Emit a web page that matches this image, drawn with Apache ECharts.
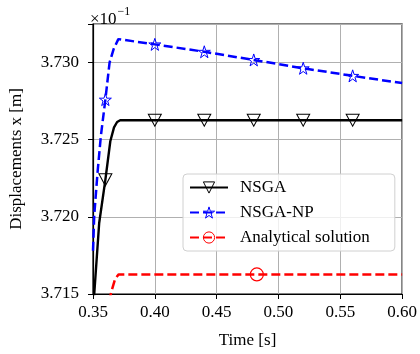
<!DOCTYPE html>
<html><head><meta charset="utf-8">
<script src="https://cdn.jsdelivr.net/npm/echarts@6/dist/echarts.min.js"></script>
<style>html,body{margin:0;padding:0;background:#fff}#c{width:420px;height:354px}</style>
</head><body><div id="c"></div>
<script>
const xTicks = [0.35, 0.40, 0.45, 0.50, 0.55, 0.60];
const yTicks = [3.715, 3.720, 3.725, 3.730];
const nsgaT = [0.350, 0.351, 0.355, 0.360, 0.364, 0.367, 0.3695, 0.372, 0.40, 0.44, 0.48, 0.52, 0.56, 0.60];
const nsgaY = [3.7142, 3.7150, 3.7196, 3.7224, 3.7249, 3.7258, 3.72615, 3.72626, 3.72626, 3.72626, 3.72626, 3.72626, 3.72626, 3.72626];
const nsgaMarks = [0.360, 0.40, 0.44, 0.48, 0.52, 0.56];
const npT = [0.350, 0.351, 0.3537, 0.3563, 0.360, 0.3634, 0.3668, 0.3705, 0.40, 0.44, 0.48, 0.52, 0.56, 0.60];
const npY = [3.7178, 3.7201, 3.7229, 3.7252, 3.7276, 3.7300, 3.7309, 3.73152, 3.73118, 3.7307, 3.73017, 3.72963, 3.72914, 3.72867];
const npMarks = [0.360, 0.40, 0.44, 0.48, 0.52, 0.56];
const anT = [0.363, 0.365, 0.368, 0.3708, 0.4825, 0.60];
const anY = [3.7145, 3.7152, 3.7160, 3.71627, 3.71627, 3.71627];
const anMarks = [0.4825];
const names = ['NSGA', 'NSGA-NP', 'Analytical solution'];

const FONT = 'Liberation Serif';
const triDown = 'path://M0,0 L10,0 L5,9 Z';
const star = 'path://M50,0 L61.8,36.2 L100,36.2 L69.1,58.6 L80.9,95 L50,72.6 L19.1,95 L30.9,58.6 L0,36.2 L38.2,36.2 Z';

function build(ts, ys, marks) {
  return ts.map((t, i) => {
    const d = { value: [t, ys[i]] };
    if (marks.indexOf(t) < 0) d.symbol = 'none';
    return d;
  });
}

const chart = echarts.init(document.getElementById('c'), null, { renderer: 'canvas' });
chart.setOption({
  animation: false,
  backgroundColor: '#fff',
  textStyle: { fontFamily: FONT },
  title: {
    text: '{a|×10}{b|−1}',
    left: 85, top: 1,
    textStyle: { fontWeight: 'normal', rich: {
      a: { fontFamily: FONT, fontSize: 17, fontWeight: 'normal', color: '#000', verticalAlign: 'bottom', lineHeight: 22 },
      b: { fontFamily: FONT, fontSize: 12, fontWeight: 'normal', color: '#000', verticalAlign: 'top', padding: [0, 0, 8, 1] }
    } }
  },
  grid: { left: 87, right: 16, top: 24, bottom: 58, show: true, borderColor: '#000', borderWidth: 1.2 },
  legend: {
    data: names,
    orient: 'vertical',
    left: 183, top: 174,
    padding: [5, 25, 5, 6],
    itemGap: 8,
    itemWidth: 38, itemHeight: 14,
    itemStyle: { color: 'rgba(255,255,255,0)', borderColor: 'inherit', borderWidth: 1 },
    backgroundColor: 'rgba(255,255,255,0.8)',
    borderColor: '#d0d0d0', borderWidth: 1, borderRadius: 4,
    textStyle: { fontFamily: FONT, fontSize: 17, color: '#000', padding: [0, 0, 0, 7] }
  },
  xAxis: {
    type: 'value', min: 0.35, max: 0.60, interval: 0.05,
    name: 'Time [s]', nameLocation: 'middle', nameGap: 38,
    nameTextStyle: { fontFamily: FONT, fontSize: 17, color: '#000' },
    axisLine: { show: true, lineStyle: { color: '#000', width: 1.2 } },
    axisTick: { show: true, inside: false, length: 5, lineStyle: { color: '#000' } },
    axisLabel: { fontFamily: FONT, fontSize: 17, color: '#000', margin: 10,
      formatter: v => v.toFixed(2) },
    splitLine: { show: true, lineStyle: { color: '#b0b0b0', width: 1 } }
  },
  yAxis: {
    type: 'value', min: 3.715, max: 3.7325, interval: 0.005,
    name: 'Displacements x [m]', nameLocation: 'middle', nameGap: 68, nameRotate: 90,
    nameTextStyle: { fontFamily: FONT, fontSize: 17, color: '#000' },
    axisLine: { show: true, lineStyle: { color: '#000', width: 1.2 } },
    axisTick: { show: true, inside: false, length: 5, lineStyle: { color: '#000' } },
    axisLabel: { fontFamily: FONT, fontSize: 17, color: '#000', margin: 14,
      formatter: v => yTicks.some(t => Math.abs(t - v) < 1e-6) ? v.toFixed(3) : '' },
    splitLine: { show: true, lineStyle: { color: '#b0b0b0', width: 1 } }
  },
  series: [
    {
      name: names[0], type: 'line', data: build(nsgaT, nsgaY, nsgaMarks),
      symbol: triDown, symbolSize: [13, 12], showSymbol: true, z: 3,
      lineStyle: { color: '#000', width: 2.4 },
      itemStyle: { color: 'rgba(255,255,255,0)', borderColor: '#000', borderWidth: 1 }
    },
    {
      name: names[1], type: 'line', data: build(npT, npY, npMarks),
      symbol: star, symbolSize: 12, showSymbol: true, z: 4,
      lineStyle: { color: '#0000ff', width: 2.5, type: [9, 4] },
      itemStyle: { color: 'rgba(255,255,255,0)', borderColor: '#0000ff', borderWidth: 1 }
    },
    {
      name: names[2], type: 'line', data: build(anT, anY, anMarks),
      symbol: 'circle', symbolSize: 13, showSymbol: true, z: 2,
      lineStyle: { color: '#ff0000', width: 2.5, type: [9, 4] },
      itemStyle: { color: 'rgba(255,255,255,0)', borderColor: '#ff0000', borderWidth: 1.2 }
    }
  ]
});
</script></body></html>
